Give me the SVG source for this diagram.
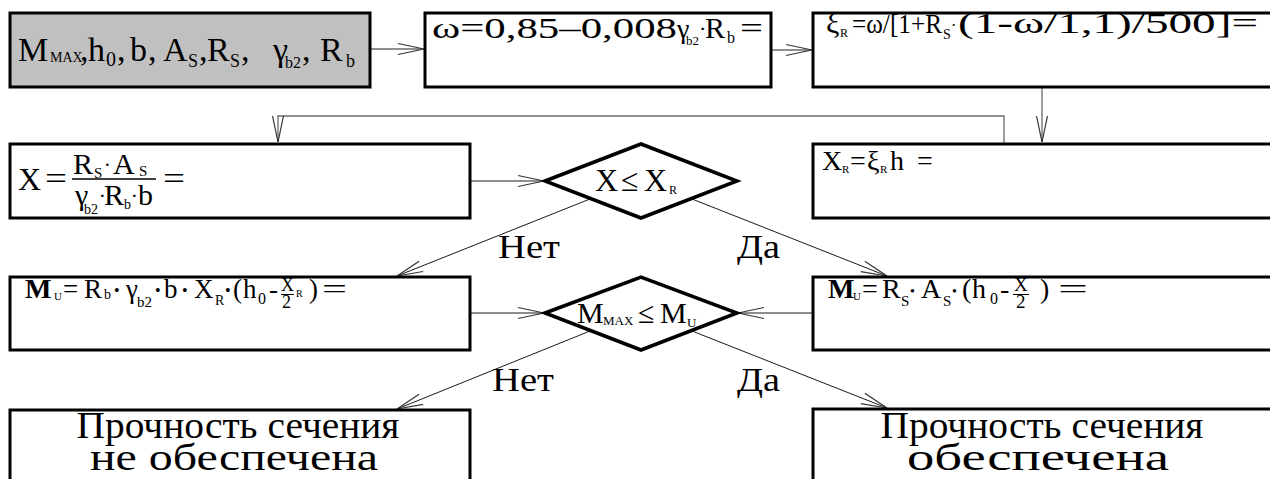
<svg xmlns="http://www.w3.org/2000/svg" width="1270" height="479" viewBox="0 0 1270 479">
<style>
text{font-family:"Liberation Serif","Times New Roman",serif;fill:#000}
.box{fill:#fff;stroke:#000;stroke-width:3}
.gray{fill:#c0c0c0}
.dia{fill:#fff;stroke:#000;stroke-width:3.5;stroke-linejoin:miter}
.c{fill:none;stroke:#6a6a6a;stroke-width:1.3}
.d{fill:none;stroke:#1a1a1a;stroke-width:1}
.lbl{font-size:34px}
.big{font-size:38px}
.fl{stroke:#000;stroke-width:1.5}
</style>
<defs>
<marker id="ah" markerUnits="userSpaceOnUse" viewBox="-28 -7 30 14" markerWidth="30" markerHeight="14" refX="0" refY="0" orient="auto">
<path d="M-26,-5.5 L0,0 L-26,5.5" fill="none" stroke="#333" stroke-width="1.2"/>
</marker>
</defs>
<rect x="0" y="0" width="1270" height="479" fill="#fff"/>

<g id="connectors">
<path class="c" d="M370,49 H424" marker-end="url(#ah)"/>
<path class="c" d="M771,50 H812" marker-end="url(#ah)"/>
<path class="c" d="M1042,87 V142" marker-end="url(#ah)"/>
<path class="c" d="M1004,144 V116 H278 V142" marker-end="url(#ah)"/>
<path class="c" d="M470,181 H544" marker-end="url(#ah)"/>
<path class="d" d="M590,199 L397,276" marker-end="url(#ah)"/>
<path class="d" d="M692,199 L887,276" marker-end="url(#ah)"/>
<path class="d" d="M470,313 H544" marker-end="url(#ah)"/>
<path class="d" d="M813,313 H738" marker-end="url(#ah)"/>
<path class="d" d="M590,331 L397,409" marker-end="url(#ah)"/>
<path class="d" d="M692,331 L887,408" marker-end="url(#ah)"/>
<text class="lbl" x="498" y="258" textLength="62" lengthAdjust="spacingAndGlyphs">Нет</text>
<text class="lbl" x="737" y="258" textLength="43" lengthAdjust="spacingAndGlyphs">Да</text>
<text class="lbl" x="492" y="391" textLength="62" lengthAdjust="spacingAndGlyphs">Нет</text>
<text class="lbl" x="737" y="391" textLength="43" lengthAdjust="spacingAndGlyphs">Да</text>
</g>

<g id="n-input">
<rect class="box gray" x="10" y="13" width="360" height="74"/>
<text font-size="34">
<tspan x="18" y="61">M</tspan><tspan x="50" y="62" font-size="14">MAX</tspan><tspan x="80" y="61">,</tspan>
<tspan x="88" y="61">h</tspan><tspan x="106" y="66" font-size="20">0</tspan><tspan x="117" y="61">,</tspan>
<tspan x="130" y="61">b</tspan><tspan x="148" y="61">,</tspan>
<tspan x="163" y="61">A</tspan><tspan x="188" y="67" font-size="18">S</tspan><tspan x="199" y="61">,</tspan>
<tspan x="207" y="61">R</tspan><tspan x="230" y="67" font-size="18">S</tspan><tspan x="241" y="61">,</tspan>
<tspan x="273" y="61">γ</tspan><tspan x="285" y="68" font-size="16">b2</tspan><tspan x="302" y="61">,</tspan>
<tspan x="320" y="61">R</tspan><tspan x="346" y="67" font-size="18">b</tspan>
</text>
</g>

<g id="n-omega">
<rect class="box" x="425" y="13" width="346" height="74"/>
<text font-size="30" x="432" y="38" textLength="245" lengthAdjust="spacingAndGlyphs">ω=0,85–0,008</text>
<text font-size="28"><tspan x="677" y="38">γ</tspan><tspan x="686" y="45" font-size="13">b2</tspan><tspan x="699" y="36" font-size="22">·</tspan><tspan x="705" y="38" font-size="30">R</tspan><tspan x="727" y="43" font-size="16">b</tspan></text>
<text font-size="30" x="740" y="38" textLength="23" lengthAdjust="spacingAndGlyphs">=</text>
</g>

<g id="n-xiR">
<rect class="box" x="813" y="13" width="470" height="74"/>
<text font-size="30"><tspan x="826" y="33">ξ</tspan><tspan x="840" y="37" font-size="12">R</tspan></text>
<text font-size="28" x="852" y="33" textLength="90" lengthAdjust="spacingAndGlyphs">=ω/[1+R</text>
<text font-size="14"><tspan x="943" y="39">S</tspan><tspan x="951" y="31" font-size="16">·</tspan></text>
<text font-size="30" x="958" y="33" textLength="300" lengthAdjust="spacingAndGlyphs">(1-ω/1,1)/500]=</text>
</g>

<g id="n-x">
<rect class="box" x="10" y="144" width="460" height="74"/>
<text font-size="32" x="18" y="190">X</text>
<text font-size="32" x="45" y="189" textLength="22" lengthAdjust="spacingAndGlyphs">=</text>
<line class="fl" x1="72" y1="179" x2="156" y2="179"/>
<text font-size="30"><tspan x="73" y="174">R</tspan><tspan x="94" y="178" font-size="15">S</tspan><tspan x="104" y="172" font-size="20">·</tspan><tspan x="113" y="174">A</tspan><tspan x="139" y="176" font-size="15">S</tspan></text>
<text font-size="30"><tspan x="75" y="205">γ</tspan><tspan x="84" y="214" font-size="14">b2</tspan><tspan x="99" y="203" font-size="20">·</tspan><tspan x="104" y="205">R</tspan><tspan x="124" y="209" font-size="14">b</tspan><tspan x="131" y="203" font-size="20">·</tspan><tspan x="138" y="205">b</tspan></text>
<text font-size="32" x="163" y="189" textLength="22" lengthAdjust="spacingAndGlyphs">=</text>
</g>

<g id="n-d1">
<polygon class="dia" points="545,181 641,144 737,181 641,218"/>
<text font-size="32"><tspan x="595" y="191">X</tspan><tspan x="621" y="191">≤</tspan><tspan x="644" y="191">X</tspan><tspan x="669" y="194" font-size="12">R</tspan></text>
</g>

<g id="n-xR">
<rect class="box" x="813" y="144" width="470" height="74"/>
<text font-size="28"><tspan x="822" y="170">X</tspan><tspan x="842" y="173" font-size="11">R</tspan><tspan x="850" y="170">=</tspan><tspan x="867" y="170">ξ</tspan><tspan x="880" y="173" font-size="11">R</tspan><tspan x="890" y="170">h</tspan><tspan x="917" y="170">=</tspan></text>
</g>

<g id="n-mu-left">
<rect class="box" x="10" y="277" width="460" height="73"/>
<text font-size="27">
<tspan x="25" y="298" font-weight="bold" font-size="28">M</tspan><tspan x="54" y="300" font-size="11">U</tspan>
<tspan x="63" y="298">=</tspan><tspan x="84" y="298">R</tspan><tspan x="104" y="299" font-size="14">b</tspan><tspan x="114" y="296" font-size="16">•</tspan>
<tspan x="126" y="298">γ</tspan><tspan x="137" y="307" font-size="15">b2</tspan><tspan x="155" y="296" font-size="16">•</tspan>
<tspan x="164" y="298">b</tspan><tspan x="182" y="296" font-size="16">•</tspan>
<tspan x="194" y="298">X</tspan><tspan x="215" y="305" font-size="14">R</tspan><tspan x="225" y="296" font-size="16">•</tspan>
<tspan x="233" y="298">(</tspan><tspan x="243" y="298">h</tspan><tspan x="258" y="304" font-size="16">0</tspan><tspan x="269" y="298">-</tspan>
<tspan x="281" y="291" font-size="18">X</tspan><tspan x="282" y="308" font-size="18">2</tspan><tspan x="296" y="297" font-size="10">R</tspan>
<tspan x="309" y="298">)</tspan>
</text>
<line x1="281" y1="294.5" x2="294" y2="294.5" stroke="#000" stroke-width="1"/>
<text font-size="27" x="322" y="298" textLength="25" lengthAdjust="spacingAndGlyphs">=</text>
</g>

<g id="n-d2">
<polygon class="dia" points="545,313 641,277 737,313 641,350"/>
<text font-size="30"><tspan x="577" y="323">M</tspan><tspan x="603" y="325" font-size="13">MAX</tspan><tspan x="638" y="323">≤</tspan><tspan x="660" y="323">M</tspan><tspan x="687" y="327" font-size="13">U</tspan></text>
</g>

<g id="n-mu-right">
<rect class="box" x="813" y="277" width="470" height="73"/>
<text font-size="28">
<tspan x="828" y="298" font-weight="bold">M</tspan><tspan x="853" y="300" font-size="11">U</tspan>
<tspan x="862" y="298">=</tspan><tspan x="882" y="298">R</tspan><tspan x="901" y="306" font-size="15">S</tspan><tspan x="910" y="296" font-size="14">•</tspan>
<tspan x="921" y="298">A</tspan><tspan x="943" y="306" font-size="15">S</tspan><tspan x="952" y="296" font-size="14">•</tspan>
<tspan x="962" y="298">(</tspan><tspan x="972" y="298">h</tspan><tspan x="990" y="304" font-size="16">0</tspan><tspan x="1000" y="298">-</tspan>
<tspan x="1014" y="291" font-size="19">X</tspan><tspan x="1016" y="308" font-size="19">2</tspan>
<tspan x="1040" y="298">)</tspan>
</text>
<line x1="1013" y1="294.5" x2="1029" y2="294.5" stroke="#000" stroke-width="1"/>
<text font-size="28" x="1058" y="298" textLength="30" lengthAdjust="spacingAndGlyphs">=</text>
</g>

<g id="n-fail">
<rect class="box" x="10" y="410" width="460" height="80"/>
<text class="big" x="238" y="438" text-anchor="middle" textLength="323" lengthAdjust="spacingAndGlyphs">Прочность сечения</text>
<text class="big" x="234" y="470" text-anchor="middle" textLength="288" lengthAdjust="spacingAndGlyphs">не обеспечена</text>
</g>

<g id="n-ok">
<rect class="box" x="813" y="409" width="470" height="80"/>
<text class="big" x="1042" y="438" text-anchor="middle" textLength="323" lengthAdjust="spacingAndGlyphs">Прочность сечения</text>
<text class="big" x="1038" y="470" text-anchor="middle" textLength="262" lengthAdjust="spacingAndGlyphs">обеспечена</text>
</g>
</svg>
